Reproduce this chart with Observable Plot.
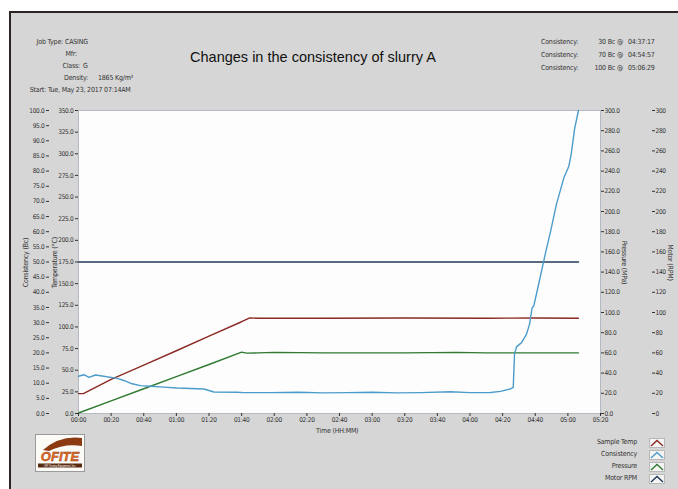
<!DOCTYPE html>
<html>
<head>
<meta charset="utf-8">
<script src="https://cdn.jsdelivr.net/npm/d3@7"></script>
<script src="https://cdn.jsdelivr.net/npm/@observablehq/plot@0.6"></script>
<style>
  html, body { margin: 0; padding: 0; background: #ffffff; }
  #page { position: relative; width: 678px; height: 489px; overflow: hidden; font-family: "Liberation Sans Narrow", "DejaVu Sans Condensed", "Liberation Sans", sans-serif; color: #333; }
  #panel { position: absolute; left: 9px; top: 11px; width: 700px; height: 500px; background: #d6d6d6; border-left: 2px solid #2e2424; border-top: 2px solid #2e2424; }
  #chart { position: absolute; left: 0; top: 0; }
  #chart svg text { letter-spacing: -0.3px; }
  .t { position: absolute; font-size: 7px; white-space: nowrap; line-height: 1; color: #333; letter-spacing: -0.2px; }
  .title { position: absolute; left: 190px; width: 246px; top: 49px; font-family: "Liberation Sans", Arial, sans-serif; font-size: 14.5px; color: #111; white-space: nowrap; text-align: center; }
  .rot { position: absolute; font-size: 7px; white-space: nowrap; line-height: 1; color: #333; transform-origin: center center; letter-spacing: -0.2px; }
  .leg { position: absolute; right: 41px; font-size: 7px; line-height: 1; color: #333; white-space: nowrap; letter-spacing: -0.2px; }
  .icon { position: absolute; left: 649px; width: 16px; height: 10px; }
</style>
</head>
<body>
<div id="page">
  <div id="panel"></div>
  <div id="chart"></div>
</div>
<script>
// ---- data (time in minutes from start) ----
const tempTime   = [0, 3, 20, 40, 60, 80, 100, 105, 110, 150, 200, 250, 280, 306.5];
const tempValue  = [23, 23, 39.5, 56, 72.5, 89.5, 106, 110.5, 110, 110, 110.3, 110, 110.3, 110];

const pressTime  = [0, 20, 40, 60, 80, 100, 103, 110, 120, 150, 200, 232, 250, 306.5];
const pressValue = [0.5, 12.5, 24.5, 36.5, 48.5, 60.8, 59.8, 60, 60.5, 60, 60, 60.5, 60, 60];

const rpmTime    = [0, 306.5];
const rpmValue   = [150, 150];

const consTime  = [0, 3.3, 6.4, 10.4, 15.5, 23.7, 27.8, 32.9, 38, 44.1, 52.3, 60.5, 76.9, 83, 97.3, 101.4, 117.8, 135, 150, 165, 180, 195, 210, 228, 240, 252.6, 258.7, 264.8, 266.5, 267.3, 268.5, 271.6, 274.6, 276.5, 278.1, 279.1, 281.6, 286.3, 289.4, 293, 297.5, 300.6, 302, 304.2, 306.5];
const consValue = [12.3, 12.8, 11.9, 12.7, 12.3, 11.6, 10.9, 9.8, 9.2, 9.0, 8.7, 8.4, 8.1, 7.1, 7.0, 6.9, 6.9, 7.0, 6.8, 6.9, 7.0, 6.8, 6.9, 7.2, 6.9, 6.95, 7.3, 8.1, 8.6, 19.6, 22.0, 23.4, 26.1, 29.5, 34.9, 35.5, 41.5, 53.0, 60.1, 69.1, 77.7, 81.6, 85.4, 94.2, 100];

const timeTicks = d3.range(0, 321, 20);
const consTicks = d3.range(0, 101, 5);
const tempTicks = d3.range(0, 351, 25);
const pressTicks = d3.range(0, 301, 20);

const colors = { temp: "#8a2a22", cons: "#4c9ccb", press: "#2f7a30", rpm: "#24395a" };

// scale conversions onto the common Bc axis (0..100)
const TEMP_K = 350 / 100, PRESS_K = 300 / 100;

const rows = (ts, vs, k) => ts.map((t, i) => ({ t, v: vs[i] / k }));
const tempRows  = rows(tempTime, tempValue, TEMP_K);
const pressRows = rows(pressTime, pressValue, PRESS_K);
const rpmRows   = rows(rpmTime, rpmValue, PRESS_K);
const consRows  = rows(consTime, consValue, 1);

const hhmm = m => String(Math.floor(m / 60)).padStart(2, "0") + ":" + String(m % 60).padStart(2, "0");

const chart = Plot.plot({
  width: 678,
  height: 489,
  marginLeft: 78,
  marginRight: 78,
  marginTop: 110,
  marginBottom: 76,
  style: { background: "transparent", fontSize: "6.5px", color: "#333", fontFamily: "Liberation Sans Narrow, DejaVu Sans Condensed, Liberation Sans, sans-serif", overflow: "visible" },
  x: { domain: [0, 320] },
  y: { domain: [0, 100] },
  marks: [
    Plot.frame({ fill: "#fdfdfd", stroke: "#b3bac2" }),
    Plot.line(rpmRows,   { x: "t", y: "v", stroke: colors.rpm,   strokeWidth: 1.4 }),
    Plot.line(tempRows,  { x: "t", y: "v", stroke: colors.temp,  strokeWidth: 1.4 }),
    Plot.line(pressRows, { x: "t", y: "v", stroke: colors.press, strokeWidth: 1.4 }),
    Plot.line(consRows,  { x: "t", y: "v", stroke: colors.cons,  strokeWidth: 1.4 }),
    Plot.axisX({ ticks: timeTicks, tickFormat: hhmm, tickSize: 3, tickPadding: 1, label: null }),
    Plot.axisY({ anchor: "left", ticks: consTicks, tickFormat: d => d.toFixed(1), tickSize: 3, tickPadding: 2, dx: -29, label: null }),
    Plot.axisY({ anchor: "left", ticks: tempTicks.map(v => v / TEMP_K), tickFormat: d => (d * TEMP_K).toFixed(1), tickSize: 3, tickPadding: 2, label: null }),
    Plot.axisY({ anchor: "right", ticks: pressTicks.map(v => v / PRESS_K), tickFormat: d => (d * PRESS_K).toFixed(1), tickSize: 3, tickPadding: 1, label: null }),
    Plot.axisY({ anchor: "right", ticks: pressTicks.map(v => v / PRESS_K), tickFormat: d => String(Math.round(d * PRESS_K)), tickSize: 3, tickPadding: 1, dx: 51, label: null })
  ]
});
document.getElementById("chart").appendChild(chart);

// ---- header / labels / legend as real text ----
const page = document.getElementById("page");
function addText(txt, x, y, cls = "t") {
  const d = document.createElement("div");
  d.className = cls;
  d.textContent = txt;
  d.style.left = x + "px";
  d.style.top = y + "px";
  page.appendChild(d);
  return d;
}
function addRight(txt, xRight, y) {
  const d = document.createElement("div");
  d.className = "t";
  d.textContent = txt;
  d.style.right = (678 - xRight) + "px";
  d.style.top = y + "px";
  page.appendChild(d);
}
// left header
addRight("Job Type:", 63, 39); addText("CASING", 65, 39);
addRight("Mfr:", 77, 51);
addRight("Class:", 80, 63); addText("G", 83, 63);
addRight("Density:", 88, 75); addText("1865 Kg/m³", 98, 75);
addRight("Start:", 46, 87); addText("Tue, May 23, 2017 07:14AM", 48, 87);

// title
const title = document.createElement("div");
title.className = "title";
title.textContent = "Changes in the consistency of slurry A";
page.appendChild(title);

// right header
const statLevels = ["30 Bc @", "70 Bc @", "100 Bc @"];
const statTimes = ["04:37:17", "04:54:57", "05:06:29"];
statLevels.forEach((s, i) => {
  const y = 39 + i * 13;
  addText("Consistency:", 541, y);
  addRight(s, 623, y);
  addText(statTimes[i], 628, y);
});

// axis titles
function addRot(txt, cx, cy, deg) {
  const d = document.createElement("div");
  d.className = "rot";
  d.textContent = txt;
  page.appendChild(d);
  const w = d.offsetWidth, h = d.offsetHeight;
  d.style.left = (cx - w / 2) + "px";
  d.style.top = (cy - h / 2) + "px";
  d.style.transform = `rotate(${deg}deg)`;
}
addRot("Consistency (Bc)", 27, 262, -90);
addRot("Temperature (°C)", 55, 262, -90);
addRot("Pressure (MPa)", 624, 262, 90);
addRot("Motor (RPM)", 669, 262, 90);
const tl = addText("Time (HH:MM)", 0, 428);
tl.style.left = (337 - tl.offsetWidth / 2) + "px";

// legend
const legendNames = ["Sample Temp", "Consistency", "Pressure", "Motor RPM"];
const legendColors = [colors.temp, colors.cons, colors.press, colors.rpm];
legendNames.forEach((n, i) => {
  const y = 438 + i * 12;
  const d = document.createElement("div");
  d.className = "leg";
  d.textContent = n;
  d.style.top = (y + 1) + "px";
  page.appendChild(d);
  const ic = document.createElementNS("http://www.w3.org/2000/svg", "svg");
  ic.setAttribute("class", "icon");
  ic.setAttribute("width", 16); ic.setAttribute("height", 10);
  ic.style.top = y + "px";
  ic.innerHTML = `<rect x="0.5" y="0.5" width="15" height="9" fill="#f4f4f4" stroke="#b8b8b8"/>
    <polyline points="2,8 8,2.5 14,8" fill="none" stroke="${legendColors[i]}" stroke-width="1.4"/>`;
  page.appendChild(ic);
});

// logo
const logo = document.createElementNS("http://www.w3.org/2000/svg", "svg");
logo.setAttribute("width", 50); logo.setAttribute("height", 38);
logo.style.position = "absolute"; logo.style.left = "35px"; logo.style.top = "434px";
logo.innerHTML = `<rect x="0.5" y="0.5" width="49" height="37" fill="#fbfaf7" stroke="#9a9a9a"/>
  <path d="M8,16 Q25,1 47,4 L47,12 Q30,9 14,17 Z" fill="#8b3a12"/>
  <text x="25" y="27" text-anchor="middle" font-family="Liberation Sans, sans-serif" font-weight="bold" font-style="italic" font-size="13" fill="#e8691e" stroke="#8b3a12" stroke-width="0.4">OFITE</text>
  <rect x="3" y="29.5" width="44" height="4" fill="#5a2a10"/>
  <text x="25" y="32.7" text-anchor="middle" font-family="Liberation Sans, sans-serif" font-size="2.6" fill="#fff">OFI Testing Equipment, Inc.</text>`;
page.appendChild(logo);
</script>
</body>
</html>
